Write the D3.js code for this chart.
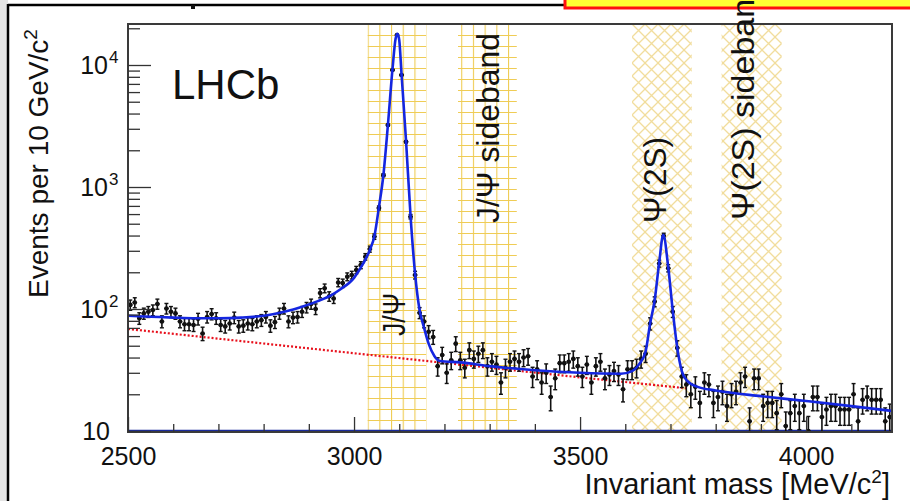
<!DOCTYPE html>
<html><head><meta charset="utf-8">
<script src="https://cdn.jsdelivr.net/npm/d3@7/dist/d3.min.js"></script>
<style>
body{margin:0;background:#fff;}
svg{display:block;font-family:"Liberation Sans",Arial,Helvetica,sans-serif;}
</style>
</head><body>
<svg id="chart" width="910" height="501"></svg>
<script>
// ---------------- data ----------------
const binLow = 2500, binWidth = 10;           // histogram binning, MeV/c^2
const counts = [
 108,113,84,92,95,98,110,79,101,95,
 92,79,75,75,74,83,63,86,91,84,
 74,72,76,85,72,73,76,75,79,81,
 86,73,78,92,101,79,85,86,95,103,
 110,
 100,135,148,127,122,165,163,184,190,209,
 229,268,310,392,673,1250,3220,9100,17600,8280,
 2350,571,190,93,79,65,
 59,34,42,30,38,52,38,33,46,39,
 43,46,34,37,35,25,33,37,39,37,
 40,41,28,32,25,30,19,27,36,36,
 37,39,34,28,35,25,34,37,27,29,
 31,29,22,32,32,33,39,43,76,115,
 236,398,216,95,48,28,
 24,20,23,17,25,24,17,19,21,16,
 20,21,25,28,12,27,27,16,17,17,
 14,20,11,14,16,14,16,10,19,19,
 13,15,16,16,15,15,15,20,12,18,
 19,18,18,18,12,13
];
// total fit (blue)
const fitMass  = [2500,2550,2600,2650,2700,2750,2800,2850,2880,2920,2950,2970,3000,3020,3035,3045,3055,3065,3075,3085,3092,3096,3100,3105,3115,3125,3135,3145,3155,3165,3178,3190,3235,3300,3400,3500,3590,3615,3630,3645,3655,3665,3675,3684,3695,3705,3715,3725,3736,3760,3800,3900,4000,4100,4190];
const fitValue = [88,86.5,85,84,84,85,88,96,103,116,130,145,180,235,305,395,680,1260,3250,9200,16500,18000,16000,8500,2400,580,195,98,70,52,41,37.5,36.5,34,31.5,30,29.5,31,35,45,76,118,240,405,220,97,48,31,26,23,21.5,19.3,17.6,16,14.6];
// combinatorial background (red dotted)
const bkgMass  = [2500,3000,3500,3740];
const bkgValue = [68.6,43.4,27.5,22.3];
// mass windows
const bandNames = ["J/\u03A8","J/\u03A8 sideband","\u03A8(2S)","\u03A8(2S) sideband"];
const bandLow   = [3030,3230,3615,3813];
const bandHigh  = [3160,3360,3747,3946];
const bandStyle = ["grid","grid","cross","cross"];
const xTickValues = [2500,3000,3500,4000];
const yTickExponents = [1,2,3,4];

// ---------------- drawing ----------------
const svg = d3.select("#chart");
const L=128,R=892,T=24,B=432;
const x = d3.scaleLinear().domain([2500,4190]).range([L,R]);
const y = d3.scaleLog().domain([10,21680]).range([431,T]);

// slide decorations
svg.append("rect").attr("x",0).attr("y",0).attr("width",8).attr("height",501).attr("fill","#e4e4e4");
svg.append("line").attr("x1",8).attr("x2",8).attr("y1",4).attr("y2",501).attr("stroke","#000").attr("stroke-width",2.5);
svg.append("line").attr("x1",8).attr("x2",566).attr("y1",5).attr("y2",5).attr("stroke","#000").attr("stroke-width",2.5);
svg.append("rect").attr("x",565).attr("y",-6).attr("width",352).attr("height",14).attr("fill","#ffff33").attr("stroke","#ff1010").attr("stroke-width",3);
svg.append("rect").attr("x",191).attr("y",5).attr("width",4).attr("height",4).attr("fill","#111");

const defs = svg.append("defs");
defs.append("clipPath").attr("id","plotclip").append("rect").attr("x",L).attr("y",T).attr("width",R-L).attr("height",B-T);
const gp = defs.append("pattern").attr("id","gridpat").attr("patternUnits","userSpaceOnUse")
  .attr("width",11.7).attr("height",11).attr("x",x(bandLow[0])).attr("y",T);
gp.append("path").attr("d","M0,0.5H11.7M0.5,0V11").attr("stroke","#efcc55").attr("stroke-width",1.2).attr("fill","none");
const cp = defs.append("pattern").attr("id","crosspat").attr("patternUnits","userSpaceOnUse")
  .attr("width",13).attr("height",13).attr("x",x(bandLow[2])).attr("y",T);
cp.append("path").attr("d","M0,0L13,13M13,0L0,13").attr("stroke","#f1dc9a").attr("stroke-width",1.3).attr("fill","none");

const plot = svg.append("g").attr("clip-path","url(#plotclip)");
plot.append("rect").attr("x",L).attr("y",T).attr("width",R-L).attr("height",B-T).attr("fill","#fff");

// bands
bandNames.forEach((n,i)=>{
  plot.append("rect").attr("x",x(bandLow[i])).attr("y",T).attr("width",x(bandHigh[i])-x(bandLow[i])).attr("height",B-T)
    .attr("fill", bandStyle[i]==="grid" ? "url(#gridpat)" : "url(#crosspat)");
});

// background
const line = d3.line().x(d=>x(d[0])).y(d=>y(d[1]));
plot.append("path").datum(bkgMass.map((m,i)=>[m,bkgValue[i]])).attr("d",line)
  .attr("fill","none").attr("stroke","#e8101c").attr("stroke-width",2.2).attr("stroke-dasharray","2,2");

// bottom component line
plot.append("line").attr("x1",L).attr("x2",R).attr("y1",y(10)).attr("y2",y(10)).attr("stroke","#1a2a9a").attr("stroke-width",2.5);

// data points
const bins = counts.map((c,i)=>({m: binLow + binWidth*(i+0.5), c}));
const pts = plot.append("g").attr("stroke","#111");
bins.forEach(d=>{
  const e = Math.sqrt(d.c);
  const cx = x(d.m);
  const y1 = y(Math.max(d.c-e, 5)), y2 = y(d.c+e);
  pts.append("line").attr("x1",cx).attr("x2",cx).attr("y1",y1).attr("y2",y2).attr("stroke-width",1.6);
  pts.append("line").attr("x1",cx-2).attr("x2",cx+2).attr("y1",y1).attr("y2",y1).attr("stroke-width",1.4);
  pts.append("line").attr("x1",cx-2).attr("x2",cx+2).attr("y1",y2).attr("y2",y2).attr("stroke-width",1.4);
  pts.append("line").attr("x1",x(d.m-binWidth/2)).attr("x2",x(d.m+binWidth/2)).attr("y1",y(d.c)).attr("y2",y(d.c)).attr("stroke-width",1.6);
  pts.append("circle").attr("cx",cx).attr("cy",y(d.c)).attr("r",2.3).attr("fill","#111").attr("stroke","none");
});

// fit
plot.append("path").datum(fitMass.map((m,i)=>[m,fitValue[i]])).attr("d",line.curve(d3.curveMonotoneX))
  .attr("fill","none").attr("stroke","#1426e0").attr("stroke-width",2.6);

// frame
svg.append("rect").attr("x",L).attr("y",T).attr("width",R-L).attr("height",B-T).attr("fill","none").attr("stroke","#3a3a3a").attr("stroke-width",2);

// axes ticks
const minorX = d3.range(2600,4190,100).filter(v=>!xTickValues.includes(v));
const gx = svg.append("g").attr("transform",`translate(0,${B})`);
gx.call(d3.axisBottom(x).tickValues(minorX).tickSize(-8).tickFormat(""));
gx.call(g=>g.append("g").call(d3.axisBottom(x).tickValues(xTickValues).tickSize(-15).tickFormat(d3.format("d"))));
gx.selectAll(".domain").remove();
gx.selectAll("line").attr("stroke","#333").attr("stroke-width",1.3);
gx.selectAll("text").attr("fill","#111").attr("font-size",25).attr("font-family","Liberation Sans, Arial, sans-serif").attr("dy",null).attr("y",33);

const gy = svg.append("g").attr("transform",`translate(${L},0)`);
const minorY = y.ticks().filter(v=>!yTickExponents.map(e=>Math.pow(10,e)).includes(v));
gy.call(d3.axisLeft(y).tickValues(minorY).tickSize(-12).tickFormat(""));
gy.call(g=>g.append("g").call(d3.axisLeft(y).tickValues(yTickExponents.map(e=>Math.pow(10,e))).tickSize(-23).tickFormat("")));
gy.selectAll(".domain").remove();
gy.selectAll("line").attr("stroke","#333").attr("stroke-width",1.3);

// y tick labels
yTickExponents.forEach(e=>{
  svg.append("text").attr("x",e===1?110:108).attr("y",y(Math.pow(10,e))+9).attr("text-anchor","end")
    .attr("font-size",25).attr("fill","#111").text("10");
  if(e>1){
    svg.append("text").attr("x",109).attr("y",y(Math.pow(10,e))-2).attr("font-size",17).attr("fill","#111").text(String(e));
  }
});

// titles
svg.append("text").attr("x",890).attr("y",494).attr("text-anchor","end").attr("font-size",29).attr("fill","#111")
  .call(t=>{t.append("tspan").text("Invariant mass [MeV/c"); t.append("tspan").attr("dy",-11).attr("font-size",19).text("2"); t.append("tspan").attr("dy",11).text("]");});
svg.append("text").attr("transform","translate(48,298) rotate(-90)").attr("font-size",28).attr("fill","#111")
  .call(t=>{t.append("tspan").text("Events per 10 GeV/c"); t.append("tspan").attr("dy",-11).attr("font-size",19).text("2");});

svg.append("text").attr("x",172).attr("y",99).attr("font-size",42).attr("fill","#111").text("LHCb");

// band labels
const labelPos = [[405,336],[499,223],[666,223],[754,220]];
const labelLen = [43,190,86,240];
bandNames.forEach((n,i)=>{
  svg.append("text").attr("transform",`translate(${labelPos[i][0]},${labelPos[i][1]}) rotate(-90)`)
    .attr("font-size",32).attr("fill","#111").attr("textLength",labelLen[i]).attr("lengthAdjust","spacingAndGlyphs").text(n);
});
</script>
</body></html>
